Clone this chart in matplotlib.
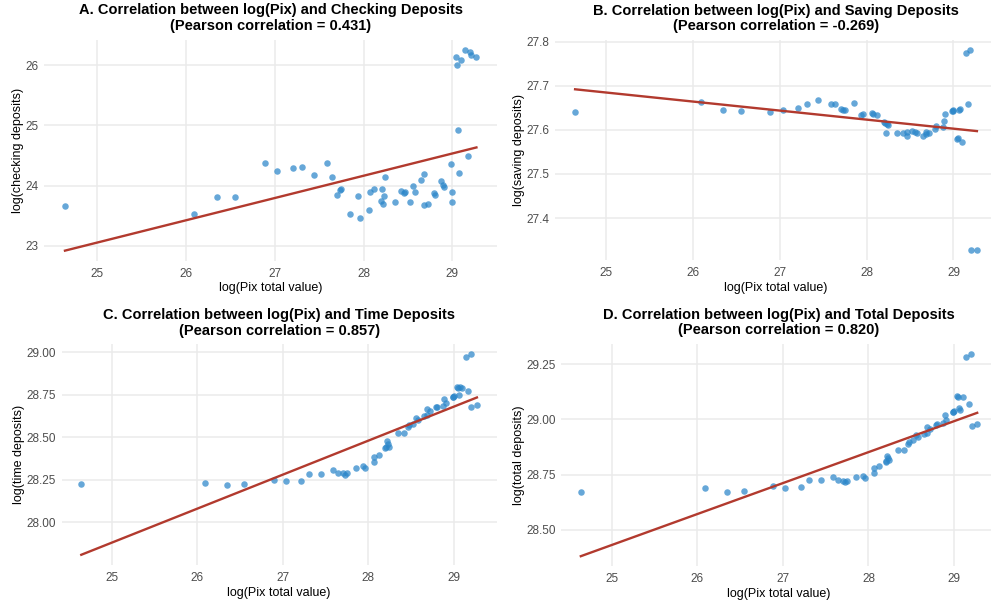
import matplotlib
matplotlib.use("Agg")
import matplotlib.pyplot as plt
import numpy as np

plt.rcParams['font.family'] = ['Liberation Sans', 'DejaVu Sans']

# log(Pix total value), shared by all four panels
log_pix = [24.64, 26.09, 26.35, 26.55, 26.89, 27.03, 27.21, 27.31, 27.44, 27.59,
           27.64, 27.70, 27.73, 27.75, 27.85, 27.94, 27.955, 28.06, 28.07, 28.12,
           28.20, 28.21, 28.22, 28.23, 28.24, 28.35, 28.42, 28.46, 28.47, 28.52,
           28.555, 28.575, 28.65, 28.68, 28.685, 28.72, 28.79, 28.80, 28.875, 28.89,
           28.905, 28.985, 28.99, 29.00, 29.04, 29.05, 29.06, 29.07, 29.10, 29.14,
           29.17, 29.195, 29.205, 29.27]

log_checking = [23.654, 23.532, 23.815, 23.81, 24.375, 24.248, 24.29, 24.31, 24.17, 24.37,
                24.148, 23.843, 23.926, 23.94, 23.53, 23.83, 23.46, 23.60, 23.90, 23.95,
                23.74, 23.95, 23.69, 23.82, 24.15, 23.73, 23.91, 23.87, 23.90, 23.73,
                23.99, 23.90, 24.10, 24.20, 23.67, 23.70, 23.87, 23.85, 24.08, 24.01,
                23.98, 24.36, 23.72, 23.89, 26.13, 26.01, 24.93, 24.21, 26.09, 26.26,
                24.49, 26.22, 26.17, 26.14]

log_saving = [27.641, 27.664, 27.646, 27.643, 27.641, 27.646, 27.649, 27.658, 27.668, 27.66,
              27.658, 27.648, 27.646, 27.646, 27.661, 27.633, 27.636, 27.639, 27.636, 27.633,
              27.618, 27.615, 27.593, 27.613, 27.611, 27.593, 27.594, 27.586, 27.595, 27.598,
              27.595, 27.594, 27.587, 27.59, 27.595, 27.594, 27.602, 27.609, 27.607, 27.62,
              27.637, 27.642, 27.644, 27.646, 27.579, 27.582, 27.646, 27.647, 27.572, 27.775,
              27.658, 27.781, 27.327, 27.327]

log_time = [28.222, 28.233, 28.216, 28.224, 28.247, 28.241, 28.241, 28.282, 28.282, 28.306,
            28.292, 28.292, 28.276, 28.288, 28.316, 28.333, 28.32, 28.357, 28.382, 28.396,
            28.439, 28.445, 28.48, 28.459, 28.442, 28.522, 28.522, 28.559, 28.573, 28.578,
            28.612, 28.602, 28.625, 28.667, 28.633, 28.655, 28.675, 28.678, 28.684, 28.725,
            28.70, 28.737, 28.735, 28.741, 28.794, 28.79, 28.749, 28.794, 28.788, 28.97,
            28.775, 28.988, 28.68, 28.688]

log_total = [28.673, 28.688, 28.673, 28.676, 28.698, 28.691, 28.695, 28.723, 28.726, 28.740,
             28.726, 28.722, 28.714, 28.719, 28.740, 28.742, 28.733, 28.758, 28.778, 28.787,
             28.808, 28.812, 28.834, 28.824, 28.815, 28.86, 28.862, 28.886, 28.898, 28.904,
             28.927, 28.919, 28.932, 28.965, 28.94, 28.957, 28.976, 28.98, 28.985, 29.021,
             28.997, 29.033, 29.031, 29.038, 29.106, 29.10, 29.053, 29.041, 29.099, 29.283,
             29.067, 29.295, 28.971, 28.977]

panel_names = ["A. Correlation between log(Pix) and Checking Deposits",
               "B. Correlation between log(Pix) and Saving Deposits",
               "C. Correlation between log(Pix) and Time Deposits",
               "D. Correlation between log(Pix) and Total Deposits"]
pearson = [0.431, -0.269, 0.857, 0.820]
y_labels = ["log(checking deposits)", "log(saving deposits)",
            "log(time deposits)", "log(total deposits)"]
y_ticks = [[23, 24, 25, 26], [27.4, 27.5, 27.6, 27.7, 27.8],
           [28.00, 28.25, 28.50, 28.75, 29.00], [28.50, 28.75, 29.00, 29.25]]
y_fmt = ["{:.0f}", "{:.1f}", "{:.2f}", "{:.2f}"]
x_ticks = [25, 26, 27, 28, 29]

W, H = 991, 605
# panel boxes in pixels: left, top, right, bottom
boxes = [(44.4, 39.5, 497, 260.7), (555, 40.2, 997, 260.2),
         (61.5, 344.3, 496.7, 564.8), (561, 344, 997, 566.3)]

fig = plt.figure(figsize=(W / 100, H / 100), dpi=100)
series = [log_checking, log_saving, log_time, log_total]
x = np.array(log_pix)

for i in range(4):
    l, t, r, b = boxes[i]
    ax = fig.add_axes([l / W, 1 - b / H, (r - l) / W, (b - t) / H])
    y = np.array(series[i])
    ax.scatter(x, y, s=22, color="#2b86c9", alpha=0.72, linewidths=0, zorder=3)
    # linear fit, like geom_smooth(method = "lm", se = FALSE)
    k, c = np.polyfit(x, y, 1)
    xs = np.array([x.min(), x.max()])
    ax.plot(xs, k * xs + c, color="#b23a2e", lw=1.7, zorder=4)

    ax.set_xticks(x_ticks)
    ax.set_yticks(y_ticks[i])
    ax.set_yticklabels([y_fmt[i].format(v) for v in y_ticks[i]])
    ax.margins(0.05)
    ax.grid(True, color="#ebebeb", lw=1.1)
    ax.set_axisbelow(True)
    for s in ax.spines.values():
        s.set_visible(False)
    ax.tick_params(length=0, labelsize=8.5, labelcolor="#4d4d4d")
    ax.tick_params(axis="x", pad=5)
    ax.tick_params(axis="y", pad=4)
    ax.set_xlabel("log(Pix total value)", fontsize=9, labelpad=2)
    ax.set_ylabel(y_labels[i], fontsize=9, labelpad=1)
    ax.set_title(f"{panel_names[i]}\n(Pearson correlation = {pearson[i]:.3f})",
                 fontsize=10.5, fontweight="bold", pad=7, linespacing=1.15)

fig.savefig("out.png", dpi=100)
